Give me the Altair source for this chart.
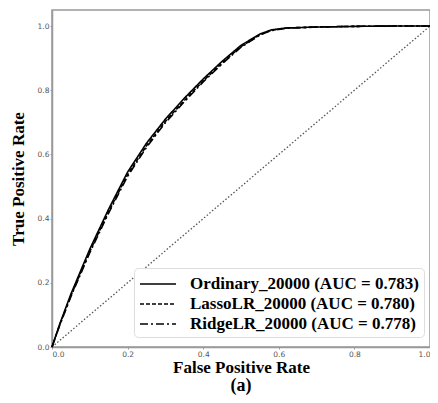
import altair as alt
import pandas as pd

fpr = [0.0, 0.02, 0.05, 0.10, 0.15, 0.20, 0.25, 0.30, 0.35, 0.40, 0.45, 0.50, 0.55, 0.58, 0.62, 0.70, 0.80, 0.90, 1.0]
tpr_ordinary = [0.0, 0.07, 0.165, 0.305, 0.43, 0.545, 0.635, 0.710, 0.775, 0.835, 0.890, 0.940, 0.975, 0.988, 0.994, 0.997, 0.999, 1.0, 1.0]
tpr_lasso = [0.0, 0.068, 0.160, 0.298, 0.422, 0.537, 0.627, 0.703, 0.768, 0.829, 0.885, 0.936, 0.973, 0.987, 0.994, 0.997, 0.999, 1.0, 1.0]
tpr_ridge = [0.0, 0.066, 0.157, 0.294, 0.418, 0.532, 0.622, 0.699, 0.764, 0.826, 0.882, 0.934, 0.972, 0.986, 0.993, 0.997, 0.999, 1.0, 1.0]
models = ["Ordinary_20000 (AUC = 0.783)", "LassoLR_20000 (AUC = 0.780)", "RidgeLR_20000 (AUC = 0.778)"]
diag_x = [0.0, 1.0]
diag_y = [0.0, 1.0]

rows = []
for m, t in zip(models, [tpr_ordinary, tpr_lasso, tpr_ridge]):
    for f, v in zip(fpr, t):
        rows.append({"fpr": f, "tpr": v, "model": m})
df = pd.DataFrame(rows)
diag = pd.DataFrame({"fpr": diag_x, "tpr": diag_y})

xs = alt.Scale(domain=[0, 1], nice=False, zero=False)
ys = alt.Scale(domain=[0, 1.05], nice=False, zero=False)

xaxis = alt.Axis(title="False Positive Rate", values=[0, 0.2, 0.4, 0.6, 0.8, 1.0], format=".1f",
                 titleFont="Liberation Serif", titleFontSize=17, titleFontWeight="bold",
                 titleColor="black", titlePadding=1.5)
yaxis = alt.Axis(title="True Positive Rate", values=[0, 0.2, 0.4, 0.6, 0.8, 1.0], format=".1f",
                 titleFont="Liberation Serif", titleFontSize=17, titleFontWeight="bold",
                 titleColor="black", titlePadding=10)

diag_line = alt.Chart(diag).mark_line(color="#555", strokeWidth=1.3, strokeDash=[1.5, 2]).encode(
    x=alt.X("fpr:Q", scale=xs, axis=xaxis),
    y=alt.Y("tpr:Q", scale=ys, axis=yaxis),
)

curves = alt.Chart(df).mark_line(color="black", strokeWidth=1.6).encode(
    x=alt.X("fpr:Q", scale=xs, axis=xaxis),
    y=alt.Y("tpr:Q", scale=ys, axis=yaxis),
    strokeDash=alt.StrokeDash(
        "model:N",
        scale=alt.Scale(domain=models, range=[[1, 0], [4, 2], [8, 3, 2, 3]]),
        sort=models,
        legend=alt.Legend(
            title=None, orient="none", legendX=82, legendY=258,
            labelFont="Liberation Serif", labelFontSize=17, labelFontWeight="bold",
            labelColor="black", symbolType="M-1,0H2.6", symbolStrokeColor="black",
            symbolFillColor="transparent",
            symbolStrokeWidth=1.5, symbolSize=400, labelOffset=29, rowPadding=1,
            padding=5, fillColor="white", strokeColor="#ddd", cornerRadius=4,
            labelLimit=400,
        ),
    ),
    order=alt.Order("fpr:Q"),
)

chart = (diag_line + curves).properties(
    width=378, height=337,
    title=alt.TitleParams("(a)", orient="bottom", anchor="middle", font="Liberation Serif",
                          fontSize=18, fontWeight="bold", color="black", offset=2),
    autosize=alt.AutoSizeParams(type="none"),
    padding={"left": 44, "top": 2, "right": 0, "bottom": 48},
).configure_view(stroke="#999", strokeWidth=1.5).configure_axis(
    labelFont="DejaVu Sans", labelFontSize=7.5, labelColor="#555", grid=False,
    domainColor="#999", domainWidth=1.5, tickColor="#999", tickSize=2, labelPadding=1,
)

chart.save("out.html", embed_options={"renderer": "svg", "actions": False})
